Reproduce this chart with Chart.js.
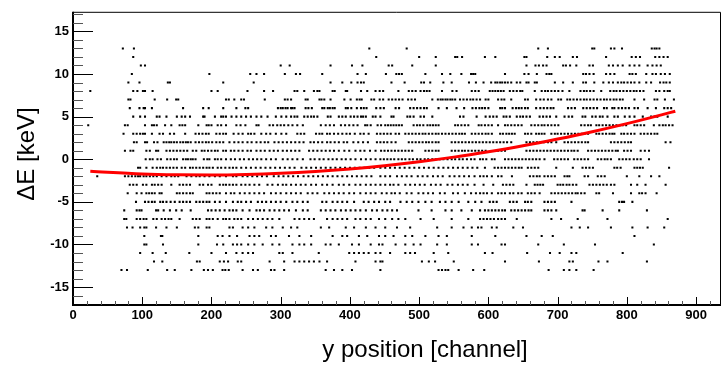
<!DOCTYPE html>
<html><head><meta charset="utf-8">
<script src="https://cdn.jsdelivr.net/npm/chart.js@4.4.0/dist/chart.umd.min.js"></script>
<style>html,body{margin:0;padding:0;background:#fff;}#wrap{width:725px;height:366px;position:relative;}</style>
</head><body><div id="wrap"><canvas id="c" width="725" height="366"></canvas></div>
<script>
// ---- Data: channel positions of the dots, one array per ΔE row ----
const r13 = [72,88,428,482,672,686,750,753,777,782,793,836,840,843,847];
const r12 = [87,438,500,524,552,555,562,595,610,652,655,685,696,703,722,728,770,807,813,819,841,847,853,859];
const r11 = [98,104,300,313,372,403,418,456,461,490,524,655,668,673,679,684,708,712,718,727,746,751,774,780,787,794,804,811,818,830,837,843,849];
const r10 = [85,197,256,265,276,306,322,328,360,411,423,452,467,471,475,509,533,545,561,575,578,581,624,652,658,670,684,688,691,737,741,746,752,770,776,782,804,808,813,828,837,842,849,855,862];
const r9 = [80,96,137,140,217,261,372,389,402,411,416,420,460,479,503,507,516,535,547,572,582,593,604,610,613,617,620,624,628,633,641,646,655,658,667,670,696,708,722,737,741,753,766,774,780,787,792,796,801,806,811,818,828,835,848,853,857,862];
const r8 = [25,87,93,101,104,115,200,209,252,276,289,320,324,334,348,353,356,375,378,394,396,416,425,437,443,448,470,485,490,495,502,507,511,515,533,548,554,576,581,586,602,606,610,614,618,622,631,636,641,646,649,667,677,682,686,691,696,701,707,717,733,738,742,747,752,763,776,781,785,790,795,800,805,810,814,819,824,842,847,854,859,862];
const r7 = [80,83,118,136,149,152,221,225,233,243,247,277,306,310,315,336,339,356,359,363,372,392,401,410,414,417,431,435,443,448,456,461,466,471,476,484,489,494,519,527,531,534,538,541,545,548,552,559,564,569,574,578,583,588,596,600,614,619,623,633,653,657,669,675,680,686,691,701,705,714,718,723,728,733,738,742,747,752,757,762,767,771,776,781,785,790,794,811,825,840,844,855,868];
const r6 = [82,96,102,104,114,159,188,196,217,236,249,253,296,300,303,307,310,315,317,320,336,340,345,360,363,368,371,375,378,394,397,402,410,416,420,424,438,444,449,466,471,487,492,497,502,507,511,528,540,554,565,577,582,587,591,595,600,617,620,624,635,640,644,648,653,657,669,675,680,685,690,694,715,720,725,737,742,747,752,757,767,771,779,782,788,793,798,803,811,816,830,842,854,859,864];
const r5 = [87,97,104,121,125,135,150,157,162,169,188,190,205,214,217,221,229,236,243,250,257,265,272,281,293,301,308,315,320,324,334,339,344,348,353,368,372,384,389,394,401,406,411,416,419,423,433,437,444,460,463,483,487,492,502,507,519,559,564,583,596,602,607,612,622,626,631,641,646,650,655,660,674,679,684,689,698,710,716,721,736,740,750,755,761,765,772,782,787,797,804,811,823,835,840,844,859];
const r4 = [22,75,79,104,114,117,121,133,142,154,158,162,181,193,196,200,209,214,221,236,242,249,265,268,284,289,295,300,305,311,317,324,332,358,365,371,377,387,393,399,405,411,422,425,430,440,445,451,455,459,463,467,471,475,492,497,501,506,512,516,520,524,528,552,556,561,566,571,586,590,595,600,605,614,624,628,633,638,643,648,662,667,672,677,681,686,691,696,701,734,739,744,748,756,760,765,770,775,780,785,790,794,799,811,815,820,825,839,847,852,856,861,866];
const r3 = [73,87,92,97,101,104,114,125,130,140,146,162,177,182,187,192,196,207,212,217,221,232,239,245,253,257,262,272,279,285,293,301,308,324,329,334,351,356,360,367,371,377,383,389,395,400,407,415,420,427,439,444,449,454,459,466,471,480,485,490,495,500,505,509,514,519,524,528,533,538,543,548,553,558,562,566,576,581,586,591,596,600,605,617,621,626,630,634,638,653,657,662,669,673,677,681,691,696,700,705,710,715,720,725,730,735,739,744,756,760,765,770,775,779,782,792,796,801,806,811,820,825,830,835,840,844];
const r2 = [88,92,104,107,117,122,131,135,139,142,146,150,155,159,163,166,170,177,182,187,192,196,201,207,212,217,226,233,239,245,252,258,265,271,277,282,291,297,303,309,315,321,327,333,343,348,354,360,367,372,378,384,391,396,405,412,419,426,439,444,449,454,460,466,485,490,495,500,505,510,514,519,524,528,547,552,557,562,567,572,577,582,587,592,597,602,607,612,617,622,627,633,655,660,665,670,675,680,686,691,698,710,715,720,725,730,735,740,744,777,782,787,792,797,802,806,856,863];
const r1 = [75,83,87,106,111,120,123,135,140,145,150,155,160,165,173,178,186,190,195,200,205,209,217,221,228,233,239,245,252,257,265,271,277,284,290,296,303,309,315,321,327,341,347,353,359,365,371,377,384,392,399,408,415,421,429,437,445,450,455,460,465,470,475,480,485,490,509,514,519,524,528,547,552,557,562,566,571,576,581,586,591,596,614,619,624,655,660,665,670,675,680,685,690,695,700,705,710,715,720,724,729,744,749,754,759,764,769,774,779,784,787,796,801,806,820,826,832];
const r0 = [105,111,115,122,127,136,141,146,150,159,163,166,170,173,177,189,194,197,205,209,214,221,228,234,241,247,254,260,266,272,279,286,293,303,310,317,324,332,343,349,356,362,369,375,381,388,394,401,408,416,423,430,437,444,449,454,459,464,470,475,480,486,491,497,502,508,513,519,524,530,535,541,547,552,558,563,569,575,580,588,592,597,605,609,624,629,634,639,644,649,654,659,664,669,674,681,695,700,705,710,715,724,729,734,739,744,758,763,768,772,777,789,794,799,804,810,815,820,832];
const rm1 = [94,97,106,115,121,126,130,135,140,145,150,157,162,169,173,178,183,188,193,197,202,209,214,220,226,231,236,243,250,257,264,271,278,285,292,299,306,313,320,330,337,344,351,358,365,372,379,386,393,400,407,414,421,428,435,444,451,458,465,472,479,486,493,500,507,514,521,528,535,542,549,556,563,570,577,584,595,609,614,619,624,629,634,639,644,648,657,662,667,672,698,722,736,741,746,751,782,786,791,811,815,819,823,861];
const rm2 = [35,75,80,85,90,94,97,102,106,111,116,121,128,135,142,147,152,164,171,178,183,190,197,205,212,221,231,236,245,252,259,266,273,280,290,297,304,311,318,325,333,340,347,354,361,368,375,382,389,396,403,410,417,424,431,444,451,458,468,475,482,489,498,505,512,520,527,534,544,551,558,565,572,580,588,593,598,605,614,619,634,660,665,670,674,681,686,691,696,710,714,717,739,744,758,763,768,800,818,835,847];
const rm3 = [82,87,92,101,106,114,118,123,128,142,154,159,164,169,183,188,195,200,212,217,221,226,231,236,243,249,255,262,269,281,288,296,303,308,315,322,329,336,344,351,360,367,375,384,391,399,408,415,423,430,437,444,451,458,463,470,480,487,494,501,508,517,524,531,541,548,556,563,570,580,593,607,621,626,631,636,655,667,671,675,679,700,704,708,713,717,722,727,746,751,756,761,766,771,777,782,806,815,827,856];
const rm4 = [79,92,99,106,110,114,118,125,128,150,154,159,164,169,173,193,197,202,207,212,221,228,233,241,248,255,262,269,276,286,293,300,308,315,322,329,339,346,353,363,370,377,384,391,399,406,415,423,430,437,446,453,460,465,472,482,489,499,506,513,520,530,537,549,556,566,575,582,588,593,598,605,614,619,624,631,636,643,648,657,662,667,674,691,696,701,706,711,716,721,726,729,734,739,756,760,780,806,818,822,827,843];
const rm5 = [91,104,109,114,118,126,130,135,141,147,154,159,164,169,178,183,188,193,197,205,212,221,231,238,243,250,257,267,273,279,286,293,300,308,317,324,332,339,360,366,375,382,389,396,406,420,427,435,442,451,458,473,482,490,499,509,518,530,538,547,557,571,581,590,602,607,612,631,636,641,653,657,662,681,686,691,696,720,789,793,796,808];
const rm6 = [74,92,96,99,120,123,131,140,149,157,170,195,200,206,212,219,226,231,236,245,255,265,270,276,284,291,298,305,312,322,332,339,358,365,372,379,387,394,401,408,415,423,432,439,447,454,461,468,499,518,538,547,561,576,588,595,600,605,610,615,620,624,633,638,643,648,653,658,662,681,686,691,698,736,739,765,789,829];
const rm7 = [74,77,92,97,102,106,116,121,128,133,138,142,154,173,178,183,193,197,202,209,217,221,226,233,238,243,253,260,267,274,281,288,298,320,327,334,341,348,367,375,382,389,396,408,415,423,430,442,451,461,470,480,502,521,547,571,588,593,598,603,608,614,619,624,641,691,705,729,772,859];
const rm8 = [78,86,97,103,106,120,135,150,176,181,193,197,226,231,245,253,262,279,288,303,315,324,358,370,394,406,423,437,451,468,487,526,547,564,576,585,590,605,612,636,650,720,732,744,777,808,830,854];
const rm9 = [103,127,129,181,209,216,226,237,255,262,269,286,293,312,327,344,375,389,396,413,425,442,451,463,480,490,509,528,540,576,610,655,677,693,811];
const rm10 = [103,106,130,181,208,217,231,237,243,253,262,274,288,298,317,327,334,344,365,372,384,403,413,430,442,447,466,480,492,502,526,540,576,585,619,624,672,709,754,839];
const rm11 = [97,115,134,168,200,221,236,245,253,260,298,303,317,355,399,406,413,420,427,437,444,458,480,487,494,521,542,595,606,656,689,703,720,727,794];
const rm12 = [117,129,179,183,212,218,224,238,243,284,305,320,327,334,341,348,356,367,408,437,444,447,504,514,523,550,624,673,717,722,759,772,829];
const rm13 = [70,78,108,136,147,171,189,195,202,216,220,225,245,260,267,286,291,305,365,377,389,403,444,528,533,538,542,557,578,594,687,709,717,727,752];

const rowEnergies = [13,12,11,10,9,8,7,6,5,4,3,2,1,0,-1,-2,-3,-4,-5,-6,-7,-8,-9,-10,-11,-12,-13];
const rowChannels = [r13,r12,r11,r10,r9,r8,r7,r6,r5,r4,r3,r2,r1,r0,rm1,rm2,rm3,rm4,rm5,rm6,rm7,rm8,rm9,rm10,rm11,rm12,rm13];

// Red fit curve
const fitChannel = [25,100,150,200,250,300,350,400,450,500,550,600,650,700,750,800,850,870];
const fitDeltaE  = [-1.41,-1.72,-1.82,-1.85,-1.79,-1.65,-1.43,-1.13,-0.75,-0.29,0.25,0.88,1.58,2.37,3.23,4.18,5.21,5.64];

// Axis ticks and titles
const xTickLabels = [0,100,200,300,400,500,600,700,800,900];
const yTickLabels = [-15,-10,-5,0,5,10,15];
const xTitle = 'y position [channel]';
const yTitle = 'ΔE [keV]';

// ---- Build datasets ----
const scatterPts = [];
rowEnergies.forEach((e, i) => rowChannels[i].forEach(ch => scatterPts.push({x: ch, y: e})));
const fitPts = fitChannel.map((ch, i) => ({x: ch, y: fitDeltaE[i]}));

const FONT = "'Liberation Sans', Arial, Helvetica, sans-serif";

const rootAxes = {
  id: 'rootAxes',
  afterDraw(chart) {
    const {ctx, chartArea: a, scales: {x, y}} = chart;
    ctx.save();
    // frame (top/right)
    ctx.strokeStyle = '#000';
    ctx.lineWidth = 1;
    ctx.beginPath();
    ctx.moveTo(a.left, a.top + 0.5); ctx.lineTo(a.right - 0.5, a.top + 0.5); ctx.lineTo(a.right - 0.5, a.bottom);
    ctx.stroke();
    // axes (left/bottom)
    ctx.lineWidth = 2;
    ctx.beginPath();
    ctx.moveTo(a.left, a.top); ctx.lineTo(a.left, a.bottom); ctx.lineTo(a.right, a.bottom);
    ctx.stroke();
    // y ticks (inward)
    ctx.lineWidth = 1;
    for (let v = -17; v <= 17; v++) {
      const py = Math.round(y.getPixelForValue(v)) + 0.5;
      if (py < a.top + 1 || py > a.bottom - 1) continue;
      const major = v % 5 === 0;
      ctx.strokeStyle = major ? '#000' : '#555';
      ctx.beginPath();
      ctx.moveTo(a.left, py); ctx.lineTo(a.left + (major ? 20 : 10), py);
      ctx.stroke();
    }
    // x ticks (inward)
    for (let v = 20; v <= 920; v += 20) {
      const px = Math.round(x.getPixelForValue(v)) + 0.5;
      const major = v % 100 === 0;
      ctx.strokeStyle = major ? '#000' : '#555';
      ctx.beginPath();
      ctx.moveTo(px, a.bottom); ctx.lineTo(px, a.bottom - (major ? 8 : 4));
      ctx.stroke();
    }
    // axis titles
    ctx.fillStyle = '#000';
    ctx.font = '24px ' + FONT;
    ctx.textAlign = 'center';
    ctx.textBaseline = 'alphabetic';
    ctx.fillText(xTitle, 425, 356.5);
    ctx.translate(33.5, 154);
    ctx.rotate(-Math.PI / 2);
    ctx.fillText(yTitle, 0, 0);
    ctx.restore();
  }
};

new Chart(document.getElementById('c'), {
  type: 'scatter',
  data: {
    datasets: [
      {
        type: 'line',
        data: fitPts,
        borderColor: '#ff0000',
        borderWidth: 3,
        pointRadius: 0,
        fill: false,
        cubicInterpolationMode: 'monotone'
      },
      {
        data: scatterPts,
        pointStyle: 'rect',
        pointRadius: 1.45,
        pointBorderWidth: 0,
        backgroundColor: '#000',
        borderColor: '#000'
      }
    ]
  },
  options: {
    responsive: false,
    devicePixelRatio: 1,
    animation: false,
    events: [],
    layout: {padding: {top: 5, right: 2, left: 0, bottom: 0}},
    plugins: {legend: {display: false}, tooltip: {enabled: false}},
    scales: {
      x: {
        type: 'linear', min: 0, max: 936,
        grid: {display: false, drawTicks: false},
        border: {display: false},
        afterBuildTicks: s => { s.ticks = xTickLabels.map(v => ({value: v})); },
        afterFit: s => { s.height = 61; },
        ticks: {color: '#000', padding: 3, autoSkip: false, maxRotation: 0,
                font: {family: FONT, size: 13, weight: 'bold'}}
      },
      y: {
        type: 'linear', min: -17.1, max: 17.3,
        grid: {display: false, drawTicks: false},
        border: {display: false},
        afterBuildTicks: s => { s.ticks = yTickLabels.map(v => ({value: v})); },
        afterFit: s => { s.width = 73; },
        ticks: {color: '#000', padding: 4, font: {family: FONT, size: 13, weight: 'bold'}}
      }
    }
  },
  plugins: [rootAxes]
});
</script>
</body></html>
